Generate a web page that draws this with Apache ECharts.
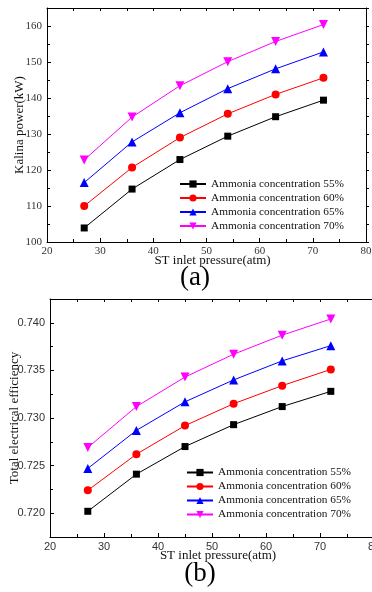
<!DOCTYPE html>
<html><head><meta charset="utf-8">
<script src="https://cdn.jsdelivr.net/npm/echarts@6/dist/echarts.min.js"></script>
<style>html,body{margin:0;padding:0;background:#fff}#c{width:372px;height:592px}</style>
</head><body><div id="c"></div>
<script>
const pressure = [27, 36, 45, 54, 63, 72];
const seriesNames = ['Ammonia concentration 55%', 'Ammonia concentration 60%', 'Ammonia concentration 65%', 'Ammonia concentration 70%'];
const powerC55 = [103.9, 114.7, 122.9, 129.4, 134.8, 139.4];
const powerC60 = [110.0, 120.7, 129.0, 135.6, 141.0, 145.6];
const powerC65 = [116.5, 127.8, 135.9, 142.6, 148.1, 152.8];
const powerC70 = [122.8, 134.7, 143.4, 150.1, 155.7, 160.4];
const effC55 = [0.7202, 0.7241, 0.7270, 0.7293, 0.7312, 0.7328];
const effC60 = [0.7224, 0.7262, 0.7292, 0.7315, 0.7334, 0.7351];
const effC65 = [0.7247, 0.7287, 0.7317, 0.7340, 0.7360, 0.7376];
const effC70 = [0.7269, 0.7312, 0.7343, 0.7367, 0.7387, 0.7404];
const powerMajor = [100, 110, 120, 130, 140, 150, 160];
const powerMinor = [105, 115, 125, 135, 145, 155, 165];
const effMajor = [0.720, 0.725, 0.730, 0.735, 0.740];
const effMinor = [0.7175, 0.7225, 0.7275, 0.7325, 0.7375, 0.7425];

const colors = ['#000000', '#ff0000', '#0000ff', '#ff00ff'];
const symbols = ['rect', 'circle', 'triangle', 'triangle'];
const symSizes = [7, 8, 9, 9];
const rotates = [0, 0, 0, 180];
const serif = '"Liberation Serif", "Times New Roman", serif';
const sans = '"Liberation Sans", Arial, sans-serif';

const chart = echarts.init(document.getElementById('c'), null, {renderer: 'canvas'});
const axisLine = {show: true, lineStyle: {color: '#000', width: 1}};

function xAxes(gridIndex, labelFont) {
  return [
    {type: 'value', gridIndex, min: 20, max: 80, interval: 10, position: 'bottom',
     name: 'ST inlet pressure(atm)', nameLocation: 'middle', nameGap: 12, nameMoveOverlap: false,
     nameTextStyle: {fontFamily: serif, fontSize: 13, color: '#111', padding: [0, 0, 0, 12]},
     axisLine, axisTick: {show: true, inside: true, length: 4, lineStyle: {color: '#000'}},
     minorTick: {show: true, splitNumber: 2, length: 3, lineStyle: {color: '#000'}},
     axisLabel: {fontFamily: labelFont, fontSize: 11, color: '#333', margin: 4},
     splitLine: {show: false}},
    {type: 'value', gridIndex, min: 20, max: 80, interval: 5, position: 'top',
     axisLine, axisTick: {show: true, inside: true, length: 3, lineStyle: {color: '#000'}},
     axisLabel: {show: false}, splitLine: {show: false}}
  ];
}
function yAxes(gridIndex, min, max, major, minor, labelFont, name, nameGap, fmt) {
  return [
    {type: 'value', gridIndex, min, max, position: 'left',
     name, nameLocation: 'middle', nameGap, nameMoveOverlap: false,
     nameTextStyle: {fontFamily: serif, fontSize: 13, color: '#111'},
     axisLine, axisTick: {show: true, inside: true, length: 4, customValues: major, lineStyle: {color: '#000'}},
     axisLabel: {fontFamily: labelFont, fontSize: 11, color: '#333', margin: 5, customValues: major, formatter: fmt},
     splitLine: {show: false}},
    {type: 'value', gridIndex, min, max, position: 'left',
     axisLine: {show: false}, axisTick: {show: true, inside: true, length: 3, customValues: minor, lineStyle: {color: '#000'}},
     axisLabel: {show: false}, splitLine: {show: false}},
    {type: 'value', gridIndex, min, max, position: 'right',
     axisLine, axisTick: {show: true, inside: false, length: 3, customValues: major.concat(minor), lineStyle: {color: '#000'}},
     axisLabel: {show: false}, splitLine: {show: false}}
  ];
}

const groups = [[powerC55, powerC60, powerC65, powerC70], [effC55, effC60, effC65, effC70]];
const series = [];
groups.forEach((g, gi) => {
  g.forEach((vals, k) => {
    series.push({
      type: 'line', name: seriesNames[k],
      xAxisIndex: gi * 2, yAxisIndex: gi * 3,
      data: pressure.map((p, i) => [p, vals[i]]),
      symbol: symbols[k], symbolSize: symSizes[k], symbolRotate: rotates[k],
      showSymbol: true,
      lineStyle: {color: colors[k], width: 1},
      itemStyle: {color: colors[k]},
      animation: false
    });
  });
});

function legend(left, top) {
  return {orient: 'vertical', left, top, itemWidth: 26, itemHeight: 9, itemGap: 2,
    selectedMode: false, padding: 0,
    textStyle: {fontFamily: serif, fontSize: 11.3, color: '#111', lineHeight: 12},
    data: seriesNames};
}

chart.setOption({
  animation: false,
  backgroundColor: '#fff',
  grid: [
    {left: 47, top: 8, width: 319, height: 234, outerBoundsMode: 'none', containLabel: false},
    {left: 50, top: 299, width: 324, height: 238, outerBoundsMode: 'none', containLabel: false}
  ],
  xAxis: xAxes(0, serif).concat(xAxes(1, sans)),
  yAxis: yAxes(0, 100, 165, powerMajor, powerMinor, serif, 'Kalina power(kW)', 20.5, v => String(v))
    .concat(yAxes(1, 0.7175, 0.7425, effMajor, effMinor, sans, 'Total electrical efficiency', 29, v => v.toFixed(3))),
  legend: [legend(179, 178), legend(186, 466.5)],
  series,
  graphic: [
    {type: 'text', x: 195, y: 278, style: {text: '(a)', fontFamily: serif, fontSize: 27, fill: '#000', align: 'center', verticalAlign: 'middle'}},
    {type: 'text', x: 200, y: 574, style: {text: '(b)', fontFamily: serif, fontSize: 27, fill: '#000', align: 'center', verticalAlign: 'middle'}}
  ]
});
</script></body></html>
